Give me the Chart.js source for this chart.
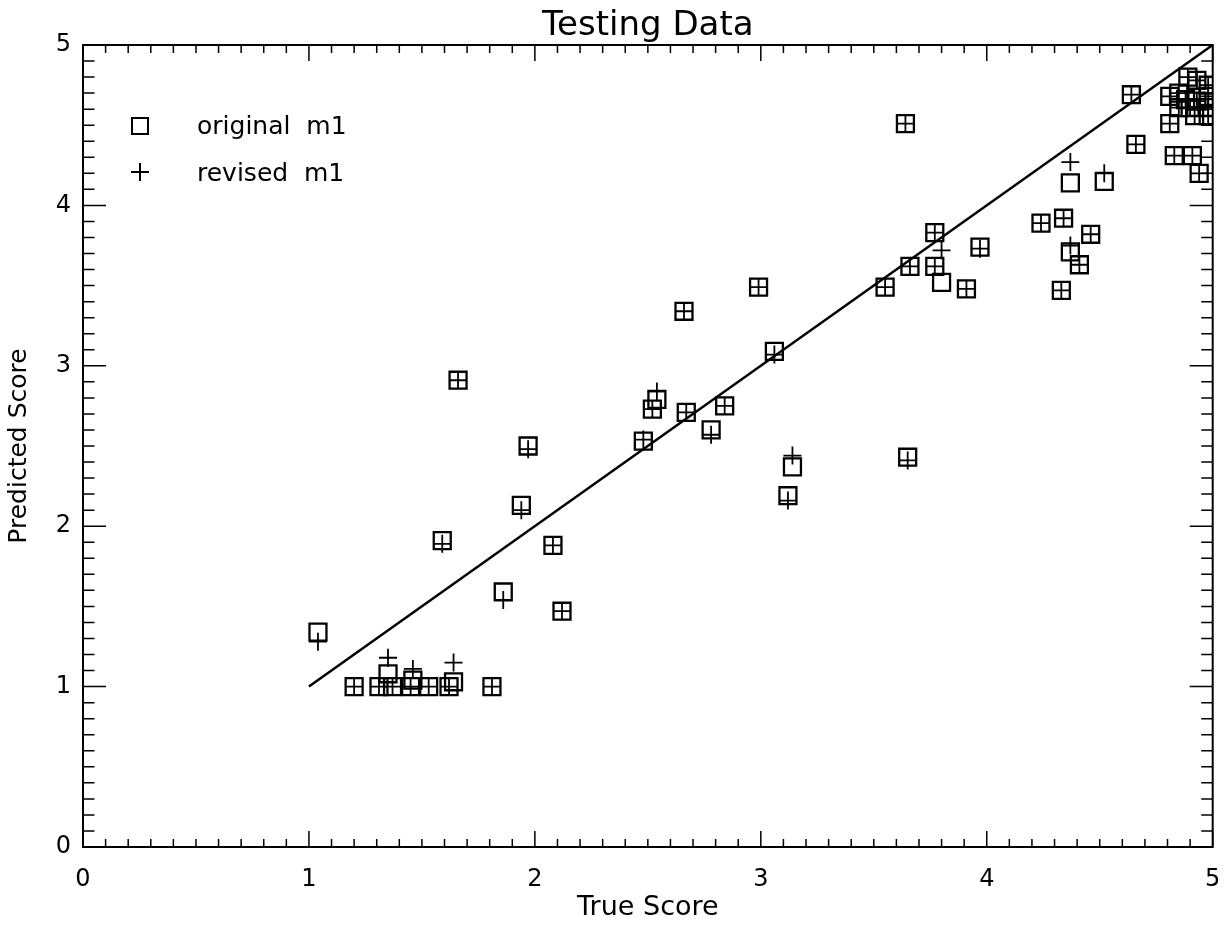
<!DOCTYPE html>
<html>
<head>
<meta charset="utf-8">
<script src="https://cdn.jsdelivr.net/npm/chart.js@4/dist/chart.umd.min.js"></script>
<style>
  body { margin: 0; background: #fff; }
  #wrap { width: 1227px; height: 926px; }
</style>
</head>
<body>
<div id="wrap"><canvas id="scoreChart"></canvas></div>
<script>
// values
const trueScore = [1.04, 1.20, 1.31, 1.35, 1.37, 1.45, 1.46, 1.53, 1.62, 1.64, 1.81,
    1.59, 1.66, 1.86, 1.94, 1.97, 2.08, 2.12, 2.48, 2.52, 2.54, 2.66, 2.67, 2.78, 2.84,
    2.99, 3.06, 3.12, 3.14, 3.55, 3.64, 3.65, 3.66, 3.77, 3.77, 3.80, 3.91, 3.97,
    4.24, 4.33, 4.34, 4.37, 4.37, 4.41, 4.46, 4.52, 4.64, 4.66, 4.81, 4.81, 4.83, 4.91, 4.94,
    4.89, 4.93, 4.98, 4.98, 4.85, 4.88, 4.93, 4.98, 4.85, 4.90, 4.92, 4.98];
const originalM1 = [1.34, 1.00, 1.00, 1.08, 1.00, 1.00, 1.04, 1.00, 1.00, 1.03, 1.00,
    1.91, 2.91, 1.59, 2.13, 2.50, 1.88, 1.47, 2.53, 2.73, 2.79, 3.34, 2.71, 2.60, 2.75,
    3.49, 3.09, 2.19, 2.37, 3.49, 4.51, 2.43, 3.62, 3.83, 3.62, 3.52, 3.48, 3.74,
    3.89, 3.47, 3.92, 4.14, 3.71, 3.63, 3.82, 4.15, 4.69, 4.38, 4.51, 4.68, 4.31, 4.31, 4.20,
    4.80, 4.78, 4.75, 4.68, 4.70, 4.66, 4.65, 4.61, 4.61, 4.61, 4.56, 4.56];
const revisedM1 = [1.28, 1.00, 1.00, 1.18, 1.00, 1.00, 1.11, 1.00, 1.00, 1.15, 1.00,
    1.89, 2.91, 1.54, 2.10, 2.48, 1.88, 1.47, 2.54, 2.73, 2.84, 3.34, 2.71, 2.57, 2.75,
    3.49, 3.07, 2.16, 2.44, 3.49, 4.51, 2.41, 3.62, 3.83, 3.62, 3.72, 3.48, 3.73,
    3.89, 3.47, 3.92, 4.27, 3.75, 3.63, 3.82, 4.20, 4.69, 4.38, 4.51, 4.68, 4.31, 4.31, 4.20,
    4.80, 4.78, 4.75, 4.68, 4.70, 4.66, 4.65, 4.61, 4.61, 4.61, 4.56, 4.56];
const diagX = [1, 5];
const diagY = [1, 5];
const axisTicks = [0, 1, 2, 3, 4, 5];

const font = 'DejaVu Sans, Noto Sans, sans-serif';
const noPadding = () => ({ left: 0, top: 0, right: 0, bottom: 0 });

// IDL style box: inward ticks on all four sides, title and legend inside the plot
const idlFrame = {
    id: 'idlFrame',
    afterDraw(chart) {
        const { ctx, chartArea: a, scales } = chart;
        ctx.save();
        ctx.strokeStyle = '#000';
        ctx.lineWidth = 2;
        ctx.strokeRect(a.left, a.top, a.right - a.left, a.bottom - a.top);
        ctx.lineWidth = 1.5;
        ctx.beginPath();
        for (let i = 0; i <= 50; i++) {
            const major = i % 10 === 0;
            const px = scales.x.getPixelForValue(i / 10);
            const py = scales.y.getPixelForValue(i / 10);
            const lx = major ? 16 : 8;
            const ly = major ? 23 : 11.5;
            ctx.moveTo(px, a.bottom); ctx.lineTo(px, a.bottom - lx);
            ctx.moveTo(px, a.top); ctx.lineTo(px, a.top + lx);
            ctx.moveTo(a.left, py); ctx.lineTo(a.left + ly, py);
            ctx.moveTo(a.right, py); ctx.lineTo(a.right - ly, py);
        }
        ctx.stroke();

        ctx.fillStyle = '#000';
        ctx.font = '34px ' + font;
        ctx.textAlign = 'center';
        ctx.textBaseline = 'alphabetic';
        ctx.fillText('Testing Data', (a.left + a.right) / 2, 35);

        // legend
        ctx.lineWidth = 2;
        ctx.strokeRect(132, 118, 16, 16);
        ctx.beginPath();
        ctx.moveTo(131, 172); ctx.lineTo(149, 172);
        ctx.moveTo(140, 163); ctx.lineTo(140, 181);
        ctx.stroke();
        ctx.font = '25px ' + font;
        ctx.textAlign = 'left';
        ctx.fillText('original  m1', 197, 134);
        ctx.fillText('revised  m1', 197, 181);
        ctx.restore();
    }
};

const ctx = document.getElementById('scoreChart').getContext('2d');
new Chart(ctx, {
    type: 'scatter',
    data: {
        datasets: [{
            label: 'original m1',
            data: trueScore.map((x, i) => ({ x: x, y: originalM1[i] })),
            pointStyle: 'rect',
            pointRadius: 12,
            borderColor: '#000',
            backgroundColor: 'rgba(0,0,0,0)',
            borderWidth: 2.3
        }, {
            label: 'revised m1',
            data: trueScore.map((x, i) => ({ x: x, y: revisedM1[i] })),
            pointStyle: 'cross',
            pointRadius: 9,
            borderColor: '#000',
            borderWidth: 1.8
        }, {
            type: 'line',
            label: 'y = x',
            data: diagX.map((x, i) => ({ x: x, y: diagY[i] })),
            showLine: true,
            pointRadius: 0,
            borderColor: '#000',
            borderWidth: 2.5
        }]
    },
    options: {
        responsive: true,
        maintainAspectRatio: false,
        animation: false,
        events: [],
        layout: { padding: { top: 45, right: 10, left: 0, bottom: 0 } },
        plugins: { legend: { display: false }, tooltip: { enabled: false } },
        scales: {
            x: {
                type: 'linear', min: 0, max: 5,
                afterFit: s => { s.height = 79; s.paddingLeft = 0; s.paddingRight = 0; s.getPadding = noPadding; },
                afterBuildTicks: s => { s.ticks = axisTicks.map(v => ({ value: v })); },
                grid: { display: false, drawTicks: false },
                border: { display: false },
                ticks: { color: '#000', padding: 18, font: { family: font, size: 24 }, maxRotation: 0 },
                title: { display: true, text: 'True Score', color: '#000',
                    font: { family: font, size: 27 }, padding: { top: 0, bottom: 2 } }
            },
            y: {
                type: 'linear', min: 0, max: 5,
                afterFit: s => { s.width = 83; s.paddingTop = 0; s.paddingBottom = 0; s.getPadding = noPadding; },
                afterBuildTicks: s => { s.ticks = axisTicks.map(v => ({ value: v })); },
                grid: { display: false, drawTicks: false },
                border: { display: false },
                ticks: { color: '#000', padding: 12, font: { family: font, size: 24 } },
                title: { display: true, text: 'Predicted Score', color: '#000',
                    font: { family: font, size: 25 }, padding: { top: 4, bottom: 0 } }
            }
        }
    },
    plugins: [idlFrame]
});
</script>
</body>
</html>
